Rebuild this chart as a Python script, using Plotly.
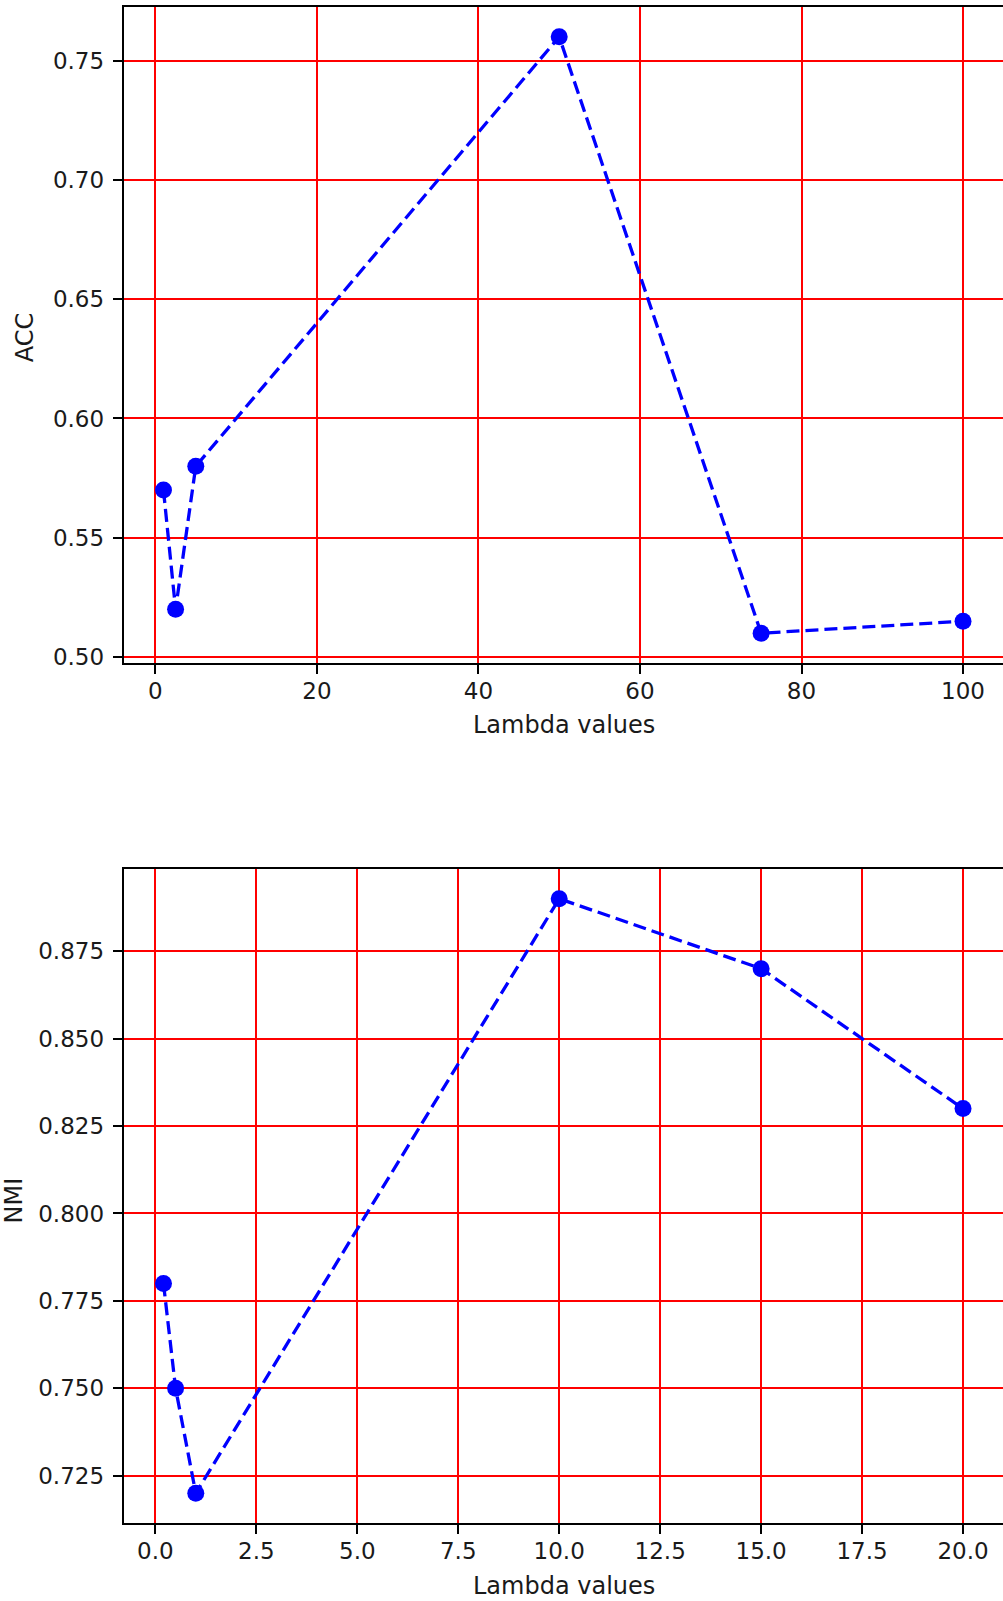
import plotly.graph_objects as go

# Data
acc_lambda = [1, 2.5, 5, 50, 75, 100]
acc_values = [0.57, 0.52, 0.58, 0.76, 0.51, 0.515]
nmi_lambda = [0.2, 0.5, 1, 10, 15, 20]
nmi_values = [0.78, 0.75, 0.72, 0.89, 0.87, 0.83]

acc_xticks = [0, 20, 40, 60, 80, 100]
acc_yticks = [0.50, 0.55, 0.60, 0.65, 0.70, 0.75]
nmi_xticks = [0, 2.5, 5, 7.5, 10, 12.5, 15, 17.5, 20]
nmi_yticks = [0.725, 0.75, 0.775, 0.8, 0.825, 0.85, 0.875]

W, H = 1003, 1601
FONT = "DejaVu Sans"
FS = 23


def margin_range(vals, frac=0.05):
    lo, hi = min(vals), max(vals)
    d = (hi - lo) * frac
    return [lo - d, hi + d]


def px_y(p):
    return 1 - p / H


fig = go.Figure()
line = dict(color="#0000ff", width=3.3, dash="13px,6px")
marker = dict(color="#0000ff", size=17)
fig.add_trace(go.Scatter(x=acc_lambda, y=acc_values, mode="lines+markers",
                         line=line, marker=marker, xaxis="x", yaxis="y",
                         showlegend=False))
fig.add_trace(go.Scatter(x=nmi_lambda, y=nmi_values, mode="lines+markers",
                         line=line, marker=marker, xaxis="x2", yaxis="y2",
                         showlegend=False))

axis_common = dict(
    showline=True, linecolor="black", linewidth=1.6,
    ticks="outside", ticklen=9, tickwidth=1.6, tickcolor="black",
    showgrid=True, gridcolor="#ff0000", gridwidth=1.6,
    zeroline=False, automargin=False,
    tickfont=dict(family=FONT, size=FS, color="#1a1a1a"),
)

xdom = [123.5 / W, 1.0]
top_dom = [px_y(663), px_y(7)]
bot_dom = [px_y(1523), px_y(869)]

fig.update_layout(
    width=W, height=H,
    margin=dict(l=0, r=0, t=0, b=0),
    paper_bgcolor="white", plot_bgcolor="white",
    font=dict(family=FONT, size=FS, color="black"),
    xaxis=dict(axis_common, domain=xdom, anchor="y", range=margin_range(acc_lambda),
               tickvals=acc_xticks, ticktext=[str(v) for v in acc_xticks], mirror=True,
               ticklabelstandoff=-2),
    yaxis=dict(axis_common, domain=top_dom, anchor="x", range=margin_range(acc_values),
               tickvals=acc_yticks, ticktext=[f"{v:.2f}" for v in acc_yticks],
               ticklabelstandoff=4),
    xaxis2=dict(axis_common, domain=xdom, anchor="y2", range=margin_range(nmi_lambda),
                tickvals=nmi_xticks, ticktext=[f"{v:.1f}" for v in nmi_xticks], mirror=True,
                ticklabelstandoff=-2),
    yaxis2=dict(axis_common, domain=bot_dom, anchor="x2", range=margin_range(nmi_values),
                tickvals=nmi_yticks, ticktext=[f"{v:.3f}" for v in nmi_yticks],
                ticklabelstandoff=4),
    annotations=[
        dict(text="Lambda values", xref="paper", yref="paper", x=563.5 / W, y=px_y(725),
             xanchor="center", yanchor="middle", showarrow=False,
             font=dict(family=FONT, size=24, color="#1a1a1a")),
        dict(text="ACC", xref="paper", yref="paper", x=25.3 / W, y=px_y(337),
             xanchor="center", yanchor="middle", showarrow=False, textangle=-90,
             font=dict(family=FONT, size=24, color="#1a1a1a")),
        dict(text="Lambda values", xref="paper", yref="paper", x=563.5 / W, y=px_y(1586),
             xanchor="center", yanchor="middle", showarrow=False,
             font=dict(family=FONT, size=24, color="#1a1a1a")),
        dict(text="NMI", xref="paper", yref="paper", x=13 / W, y=px_y(1200.5),
             xanchor="center", yanchor="middle", showarrow=False, textangle=-90,
             font=dict(family=FONT, size=24, color="#1a1a1a")),
    ],
)

fig.write_html("out.html")
